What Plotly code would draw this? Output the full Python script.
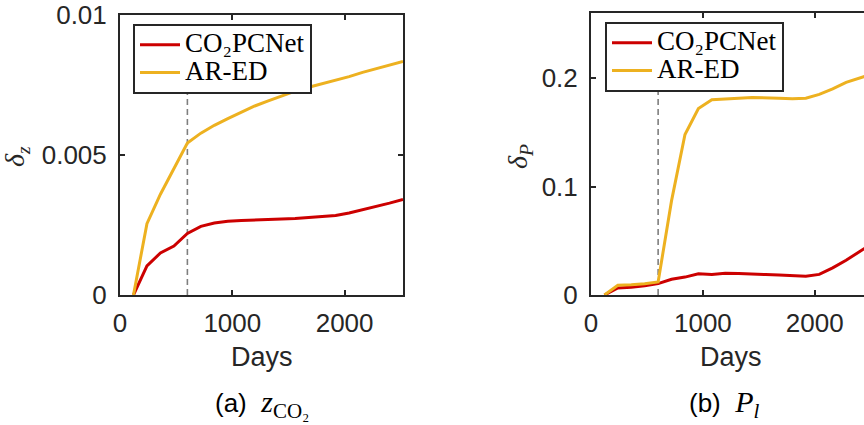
import plotly.graph_objects as go

# Forecast horizon (days) shared by both panels
days = [120, 240, 360, 480, 600, 720, 840, 960, 1080, 1200, 1320,
        1440, 1560, 1680, 1800, 1920, 2040, 2160, 2280, 2400, 2520]

# Panel (a): relative error of CO2 mole fraction
dz_co2pcnet = [0.0, 0.00104, 0.00150, 0.00175, 0.00220, 0.00245, 0.00257,
               0.00263, 0.00266, 0.00267, 0.00269, 0.00271, 0.00273, 0.00276,
               0.00279, 0.00284, 0.00293, 0.00304, 0.00316, 0.00328, 0.00341]
dz_ared = [0.0, 0.00255, 0.00360, 0.00452, 0.00543, 0.00578, 0.00606,
           0.00630, 0.00653, 0.00675, 0.00693, 0.00710, 0.00728, 0.00742,
           0.00754, 0.00767, 0.00780, 0.00795, 0.00808, 0.00821, 0.00834]

# Panel (b): relative error of pressure
dp_co2pcnet = [0.0, 0.0065, 0.0072, 0.0085, 0.0105, 0.0145, 0.0165, 0.0195,
               0.0190, 0.0200, 0.0198, 0.0190, 0.0188, 0.0185, 0.0180, 0.0172,
               0.0190, 0.0250, 0.0320, 0.0400, 0.0480]
dp_ared = [0.0, 0.0090, 0.0095, 0.0103, 0.0120, 0.0870, 0.1480, 0.1720,
           0.1800, 0.1810, 0.1815, 0.1820, 0.1820, 0.1815, 0.1810, 0.1815,
           0.1850, 0.1900, 0.1960, 0.2000, 0.2040]

split_day = 600  # end of the training window

x_ticks = [0, 1000, 2000]
x_ticktext = ["0", "1000", "2000"]
yz_ticks = [0, 0.005, 0.01]
yz_ticktext = ["0", "0.005", "0.01"]
yp_ticks = [0, 0.1, 0.2]
yp_ticktext = ["0", "0.1", "0.2"]

names = ["CO₂PCNet", "AR-ED"]
colors = ["#CC0000", "#EDB120"]

W, H = 864, 425
AX = "#262626"
SANS = "Liberation Sans"
SERIF = "Liberation Serif"


def px(xp):
    return xp / W


def py(yp):
    return (H - yp) / H


def legend_label(text):
    return f"<span style='font-size:27px'>{text}</span>"


fig = go.Figure()

for name, col, ys in zip(names, colors, [dz_co2pcnet, dz_ared]):
    fig.add_trace(go.Scatter(x=days, y=ys, mode="lines", name=legend_label(name),
                             line=dict(color=col, width=3),
                             xaxis="x", yaxis="y", legend="legend"))
for name, col, ys in zip(names, colors, [dp_co2pcnet, dp_ared]):
    fig.add_trace(go.Scatter(x=days, y=ys, mode="lines", name=legend_label(name),
                             line=dict(color=col, width=3),
                             xaxis="x2", yaxis="y2", legend="legend2"))

# Vertical dashed marker at the end of the training window
for xr, yr, top in [("x", "y", max(dz_co2pcnet + dz_ared)),
                    ("x2", "y2", max(dp_co2pcnet + dp_ared))]:
    fig.add_shape(type="line", xref=xr, yref=yr, x0=split_day, x1=split_day,
                  y0=0, y1=top, layer="below",
                  line=dict(color="#7F7F7F", width=1.6, dash="6px,4px"))

tickfont = dict(family=SANS, size=26, color=AX)
axis_common = dict(showgrid=False, zeroline=False, showline=True,
                   linecolor=AX, linewidth=2, ticks="inside", ticklen=5,
                   tickwidth=1.5, tickcolor=AX, tickfont=tickfont,
                   automargin=False)

legend_common = dict(xanchor="left", yanchor="top", bgcolor="white",
                     bordercolor=AX, borderwidth=2,
                     font=dict(family=SERIF, size=19, color="black"),
                     itemwidth=40, tracegroupgap=0)

fig.update_layout(
    template="none",
    width=W, height=H,
    margin=dict(l=0, r=0, t=0, b=0, autoexpand=False),
    paper_bgcolor="white", plot_bgcolor="white",
    xaxis=dict(domain=[px(120), px(403)], range=[0, 2520], anchor="y",
               tickvals=x_ticks, ticktext=x_ticktext, mirror="ticks",
               ticklabelstandoff=4, **axis_common),
    yaxis=dict(domain=[py(295), py(15)], range=[0, 0.01], anchor="x",
               tickvals=yz_ticks, ticktext=yz_ticktext, mirror="ticks",
               ticklabelstandoff=6, **axis_common),
    xaxis2=dict(domain=[px(591), 1.0], range=[0, 2440], anchor="y2",
                tickvals=x_ticks, ticktext=x_ticktext, mirror="ticks",
                ticklabelstandoff=4, **axis_common),
    yaxis2=dict(domain=[py(295), py(13)], range=[0, 0.26], anchor="x2",
                tickvals=yp_ticks, ticktext=yp_ticktext, mirror=False,
                ticklabelstandoff=6, **axis_common),
    legend=dict(x=px(133), y=py(24), **legend_common),
    legend2=dict(x=px(605), y=py(22), **legend_common),
    showlegend=True,
)

annots = [
    # x-axis titles
    dict(x=px(262), y=py(357), text="Days",
         font=dict(family=SANS, size=27, color=AX)),
    dict(x=px(731), y=py(357), text="Days",
         font=dict(family=SANS, size=27, color=AX)),
    # y-axis titles
    dict(x=px(16), y=py(157), text="<i>δ</i><sub><i>z</i></sub>",
         textangle=-90, font=dict(family=SERIF, size=28, color=AX)),
    dict(x=px(519), y=py(157), text="<i>δ</i><sub><i>P</i></sub>",
         textangle=-90, font=dict(family=SERIF, size=28, color=AX)),
    # sub-figure captions
    dict(x=px(262), y=py(404),
         text="(a)  <span style='font-family:Liberation Serif;font-size:30px'>"
              "<i>z</i><sub>CO₂</sub></span>",
         font=dict(family=SANS, size=26, color="black")),
    dict(x=px(724), y=py(404),
         text="(b)  <span style='font-family:Liberation Serif;font-size:30px'>"
              "<i>P</i><sub><i>l</i></sub></span>",
         font=dict(family=SANS, size=26, color="black")),
]
for a in annots:
    fig.add_annotation(xref="paper", yref="paper", showarrow=False,
                       xanchor="center", yanchor="middle", **a)

fig.write_html("out.html")
